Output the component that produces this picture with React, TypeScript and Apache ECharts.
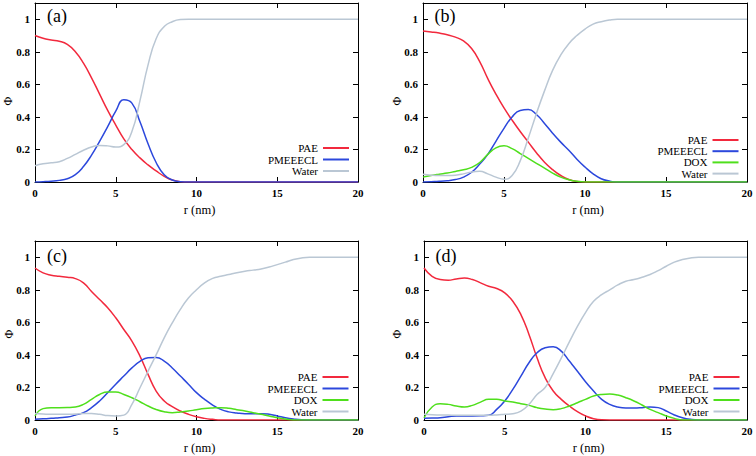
import React, { useEffect, useRef } from "react";
import * as echarts from "echarts";

// r (nm) sample positions
const R = [0,0.5,1,1.5,2,2.5,3,3.5,4,4.5,5,5.5,6,6.5,7,7.5,8,8.5,9,9.5,10,10.5,11,11.5,12,12.5,13,13.5,14,14.5,15,15.5,16,16.5,17,17.5,18,18.5,19,19.5,20];

// Panel (a)
const A_PAE = [0.90,0.883,0.873,0.865,0.845,0.80,0.73,0.64,0.54,0.44,0.35,0.265,0.20,0.148,0.105,0.068,0.035,0.012,0.002,0,0,0,0,0,0,0,0,0,0,0,0,0,0,0,0,0,0,0,0,0,0];
const A_PME = [0,0.002,0.005,0.01,0.02,0.045,0.095,0.165,0.25,0.34,0.435,0.505,0.485,0.37,0.235,0.12,0.045,0.012,0.002,0,0,0,0,0,0,0,0,0,0,0,0,0,0,0,0,0,0,0,0,0,0];
const A_WAT = [0.10,0.112,0.118,0.125,0.145,0.17,0.195,0.215,0.225,0.222,0.215,0.23,0.31,0.50,0.72,0.88,0.955,0.985,0.998,1,1,1,1,1,1,1,1,1,1,1,1,1,1,1,1,1,1,1,1,1,1];

// Panel (b)
const B_PAE = [0.928,0.922,0.915,0.905,0.89,0.867,0.82,0.74,0.635,0.54,0.455,0.38,0.31,0.245,0.18,0.122,0.076,0.04,0.015,0.003,0,0,0,0,0,0,0,0,0,0,0,0,0,0,0,0,0,0,0,0,0];
const B_PME = [0,0.002,0.004,0.008,0.015,0.03,0.06,0.11,0.17,0.25,0.33,0.40,0.44,0.445,0.415,0.36,0.30,0.245,0.195,0.14,0.092,0.05,0.02,0.006,0,0,0,0,0,0,0,0,0,0,0,0,0,0,0,0,0];
const B_DOX = [0.03,0.04,0.048,0.055,0.065,0.075,0.09,0.12,0.17,0.21,0.222,0.205,0.175,0.145,0.115,0.085,0.055,0.03,0.014,0.004,0,0,0,0,0,0,0,0,0,0,0,0,0,0,0,0,0,0,0,0,0];
const B_WAT = [0.047,0.042,0.04,0.04,0.042,0.05,0.062,0.066,0.05,0.03,0.017,0.04,0.13,0.27,0.42,0.56,0.686,0.78,0.85,0.90,0.94,0.97,0.985,0.995,1,1,1,1,1,1,1,1,1,1,1,1,1,1,1,1,1];

// Panel (c)
const C_PAE = [0.934,0.904,0.89,0.883,0.877,0.869,0.843,0.79,0.74,0.69,0.628,0.556,0.485,0.393,0.28,0.178,0.117,0.082,0.055,0.035,0.02,0.01,0.004,0,0,0,0,0,0,0,0,0,0,0,0,0,0,0,0,0,0];
const C_PME = [0.004,0.007,0.01,0.014,0.018,0.03,0.045,0.076,0.117,0.168,0.22,0.27,0.32,0.36,0.382,0.384,0.362,0.32,0.27,0.22,0.168,0.127,0.092,0.065,0.05,0.043,0.039,0.039,0.039,0.035,0.025,0.014,0.006,0.001,0,0,0,0,0,0,0];
const C_DOX = [0.025,0.07,0.076,0.076,0.077,0.08,0.096,0.127,0.157,0.172,0.172,0.157,0.137,0.112,0.086,0.065,0.051,0.045,0.049,0.055,0.063,0.07,0.074,0.076,0.072,0.063,0.055,0.045,0.035,0.025,0.014,0.006,0,0,0,0,0,0,0,0,0];
const C_WAT = [0.04,0.037,0.035,0.035,0.035,0.037,0.04,0.04,0.035,0.027,0.025,0.03,0.096,0.198,0.30,0.40,0.505,0.597,0.68,0.75,0.80,0.843,0.87,0.883,0.894,0.905,0.914,0.921,0.928,0.94,0.955,0.97,0.986,0.996,1,1,1,1,1,1,1];

// Panel (d)
const D_PAE = [0.934,0.883,0.863,0.859,0.867,0.873,0.863,0.843,0.822,0.808,0.781,0.73,0.648,0.526,0.382,0.26,0.178,0.127,0.086,0.051,0.025,0.008,0.001,0,0,0,0,0,0,0,0,0,0,0,0,0,0,0,0,0,0];
const D_PME = [0.01,0.012,0.014,0.02,0.025,0.025,0.025,0.026,0.029,0.065,0.117,0.188,0.27,0.352,0.413,0.444,0.45,0.423,0.362,0.30,0.235,0.178,0.127,0.096,0.08,0.074,0.074,0.076,0.08,0.076,0.055,0.031,0.014,0.004,0,0,0,0,0,0,0];
const D_DOX = [0.014,0.08,0.1,0.096,0.086,0.08,0.09,0.11,0.127,0.127,0.117,0.11,0.1,0.09,0.076,0.067,0.063,0.07,0.086,0.106,0.127,0.147,0.157,0.16,0.153,0.137,0.117,0.092,0.065,0.045,0.025,0.01,0,0,0,0,0,0,0,0,0];
const D_WAT = [0.035,0.032,0.031,0.03,0.029,0.029,0.029,0.029,0.029,0.031,0.035,0.039,0.055,0.096,0.157,0.2,0.285,0.38,0.48,0.575,0.66,0.73,0.77,0.80,0.83,0.853,0.863,0.877,0.894,0.918,0.945,0.97,0.986,0.996,1,1,1,1,1,1,1];

const PANEL_LABELS = ["(a)", "(b)", "(c)", "(d)"];
const X_TICKS = [0, 5, 10, 15, 20];
const Y_TICKS = [0, 0.2, 0.4, 0.6, 0.8, 1];
const X_NAME = "r (nm)";
const Y_NAME = "Φ";

const COLORS: Record<string, string> = {
  PAE: "#f2293d",
  PMEEECL: "#2c48dc",
  DOX: "#4fdf1c",
  Water: "#bac7d4",
};

const PANELS: [string, number[]][][] = [
  [["PAE", A_PAE], ["PMEEECL", A_PME], ["Water", A_WAT]],
  [["PAE", B_PAE], ["PMEEECL", B_PME], ["DOX", B_DOX], ["Water", B_WAT]],
  [["PAE", C_PAE], ["PMEEECL", C_PME], ["DOX", C_DOX], ["Water", C_WAT]],
  [["PAE", D_PAE], ["PMEEECL", D_PME], ["DOX", D_DOX], ["Water", D_WAT]],
];

// layout (pixels)
const GRIDS = [
  { left: 35, top: 3, width: 323, height: 179 },
  { left: 423, top: 3, width: 324, height: 179 },
  { left: 35, top: 241, width: 323, height: 179 },
  { left: 424, top: 241, width: 323, height: 179 },
];
const LEGENDS = [
  { right: 407, top: 142.5, gap: 0.5 },
  { right: 17.5, top: 134.5, gap: 0.2 },
  { right: 407.5, top: 371.5, gap: 0.5 },
  { right: 16.5, top: 371.5, gap: 0.5 },
];
const PHI_POS = [[8, 101], [397, 101], [9, 334], [397, 334]];
const LABEL_POS = [[57, 16], [445, 16], [57, 256], [446, 256]];

const FONT = "'Liberation Serif', 'Times New Roman', Times, serif";

function buildOption() {
  const xAxis: any[] = [];
  const yAxis: any[] = [];
  const series: any[] = [];
  const legend: any[] = [];
  const graphic: any[] = [];
  const axisLine = { show: true, onZero: false, lineStyle: { color: "#000", width: 1 } };
  const tick = { show: true, inside: true, length: 5, lineStyle: { color: "#000", width: 1 } };
  const tickLabel = { color: "#000", fontFamily: FONT, fontSize: 11, fontWeight: "bold", margin: 5 };

  GRIDS.forEach((g, k) => {
    xAxis.push({
      gridIndex: k, type: "value", min: 0, max: 20, interval: 5, position: "bottom",
      axisLine, axisTick: tick, splitLine: { show: false },
      axisLabel: { ...tickLabel, customValues: X_TICKS },
      name: X_NAME, nameLocation: "middle", nameGap: 21,
      nameTextStyle: { color: "#000", fontFamily: FONT, fontSize: 12.5, padding: [0, 0, 0, 6] },
    });
    xAxis.push({
      gridIndex: k, type: "value", min: 0, max: 20, interval: 5, position: "top",
      axisLine, axisTick: tick, splitLine: { show: false }, axisLabel: { show: false },
    });
    yAxis.push({
      gridIndex: k, type: "value", min: 0, max: 1.1, interval: 0.2, position: "left",
      axisLine, axisTick: { ...tick, customValues: Y_TICKS }, splitLine: { show: false },
      axisLabel: { ...tickLabel, customValues: Y_TICKS },
    });
    yAxis.push({
      gridIndex: k, type: "value", min: 0, max: 1.1, interval: 0.2, position: "right",
      axisLine, axisTick: { ...tick, customValues: Y_TICKS }, splitLine: { show: false },
      axisLabel: { show: false },
    });

    const names: string[] = [];
    PANELS[k].forEach(([name, values]) => {
      names.push(name);
      series.push({
        type: "line", name, xAxisIndex: 2 * k, yAxisIndex: 2 * k,
        data: R.map((r, i) => [r, values[i]]),
        showSymbol: false, symbol: "none", smooth: 0.5,
        color: COLORS[name],
        lineStyle: { color: COLORS[name], width: 1.5 },
        z: 3,
      });
    });

    const L = LEGENDS[k];
    legend.push({
      orient: "vertical", right: L.right, top: L.top, align: "right",
      itemWidth: 26, itemHeight: 2, itemGap: L.gap, padding: 0, icon: "rect",
      selectedMode: false,
      textStyle: { color: "#000", fontFamily: FONT, fontSize: 11, lineHeight: 11 },
      data: names.map((n) => ({ name: n, icon: "rect", itemStyle: { color: COLORS[n] } })),
    });

    graphic.push({
      type: "text", x: PHI_POS[k][0], y: PHI_POS[k][1], rotation: Math.PI / 2,
      style: { text: Y_NAME, fontFamily: FONT, fontSize: 12, fill: "#000", align: "center", verticalAlign: "middle" },
    });
    graphic.push({
      type: "text", x: LABEL_POS[k][0], y: LABEL_POS[k][1],
      style: { text: PANEL_LABELS[k], fontFamily: FONT, fontSize: 18, fill: "#000", align: "center", verticalAlign: "middle" },
    });
  });

  return {
    animation: false,
    backgroundColor: "#fff",
    textStyle: { fontFamily: FONT },
    grid: GRIDS.map((g) => ({ ...g, containLabel: false })),
    xAxis, yAxis, series, legend, graphic,
  };
}

export default function App() {
  const ref = useRef<HTMLDivElement>(null);
  useEffect(() => {
    if (!ref.current) return;
    const chart = echarts.init(ref.current, null, { renderer: "svg" });
    chart.setOption(buildOption() as any);
    return () => chart.dispose();
  }, []);
  return (
    <div
      ref={ref}
      style={{ position: "absolute", left: 0, top: 0, width: 756, height: 456, background: "#fff" }}
    />
  );
}
